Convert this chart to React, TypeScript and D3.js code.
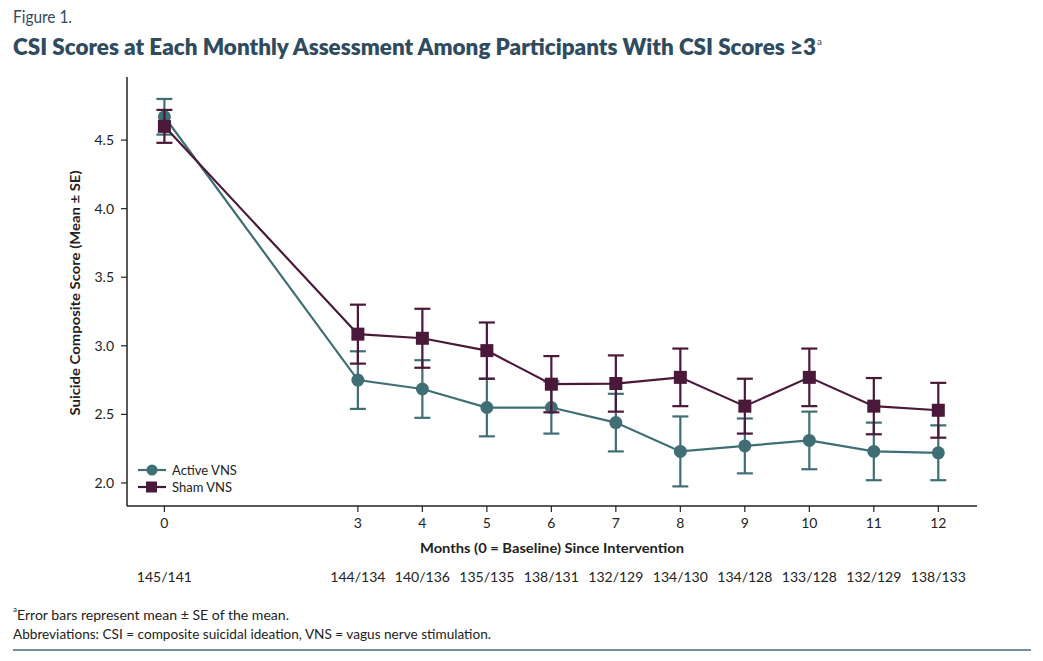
import React from "react";
import * as d3 from "d3";

// months assessed (0 = baseline)
const months = [0, 3, 4, 5, 6, 7, 8, 9, 10, 11, 12];
const nLabels = ["145/141", "144/134", "140/136", "135/135", "138/131", "132/129", "134/130", "134/128", "133/128", "132/129", "138/133"];

const activeMean = [4.67, 2.75, 2.685, 2.55, 2.55, 2.44, 2.23, 2.27, 2.31, 2.23, 2.22];
const activeSE = [0.13, 0.21, 0.21, 0.21, 0.19, 0.21, 0.255, 0.2, 0.21, 0.21, 0.2];
const shamMean = [4.6, 3.085, 3.055, 2.965, 2.72, 2.725, 2.77, 2.56, 2.77, 2.56, 2.53];
const shamSE = [0.12, 0.215, 0.215, 0.205, 0.205, 0.205, 0.21, 0.2, 0.21, 0.205, 0.2];

const yTicks = [2.0, 2.5, 3.0, 3.5, 4.0, 4.5];

const series = [
  { label: "Active VNS", mean: activeMean, se: activeSE, color: "#3f6f75", shape: "circle" },
  { label: "Sham VNS", mean: shamMean, se: shamSE, color: "#4a1838", shape: "square" },
];

const W = 1043;
const H = 661;
const x = d3.scaleLinear().domain([-0.58, 12.6]).range([127, 977]);
const y = d3.scaleLinear().domain([1.832, 4.96]).range([506, 77]);
const titleColor = "#2f4b60";
const font = "Lato, 'Open Sans', sans-serif";

export default function App() {
  const line = d3
    .line<number>()
    .x((_, i) => x(months[i]))
    .y((d) => y(d));

  return (
    <svg width={W} height={H} style={{ position: "absolute", left: 0, top: 0, background: "#fff" }} fontFamily={font}>
      <text x={13} y={23} fontSize={17} fill={titleColor} textLength={59} lengthAdjust="spacingAndGlyphs">Figure 1.</text>
      <text x={13} y={55} fontSize={22} fontWeight={800} fill={titleColor} textLength={803} lengthAdjust="spacingAndGlyphs">
        CSI Scores at Each Monthly Assessment Among Participants With CSI Scores ≥3
      </text>
      <text x={817} y={45} fontSize={10} fill={titleColor}>a</text>

      {/* axes */}
      <line x1={127} x2={127} y1={77} y2={506} stroke="#222" strokeWidth={1.5} />
      <line x1={127} x2={977} y1={506} y2={506} stroke="#222" strokeWidth={1.5} />
      {yTicks.map((t) => (
        <g key={t}>
          <line x1={121} x2={127} y1={y(t)} y2={y(t)} stroke="#222" strokeWidth={1.2} />
          <text x={114} y={y(t) + 5} fontSize={14} textAnchor="end" fill="#222">{t.toFixed(1)}</text>
        </g>
      ))}
      {months.map((m, i) => (
        <g key={m}>
          <line x1={x(m)} x2={x(m)} y1={506} y2={512} stroke="#222" strokeWidth={1.2} />
          <text x={x(m)} y={528} fontSize={14} textAnchor="middle" fill="#222">{m}</text>
          <text x={x(m)} y={582} fontSize={14} textAnchor="middle" fill="#222">{nLabels[i]}</text>
        </g>
      ))}
      <text x={552} y={553} fontSize={14} fontWeight={700} textAnchor="middle" fill="#222" textLength={264} lengthAdjust="spacingAndGlyphs">
        Months (0 = Baseline) Since Intervention
      </text>
      <text transform="translate(80,293) rotate(-90)" fontSize={14} fontWeight={700} textAnchor="middle" fill="#222" textLength={245} lengthAdjust="spacingAndGlyphs">
        Suicide Composite Score (Mean ± SE)
      </text>

      {/* series */}
      {series.map((s) => (
        <g key={s.label}>
          <path d={line(s.mean) || ""} fill="none" stroke={s.color} strokeWidth={2.2} />
          {s.mean.map((v, i) => {
            const cx = x(months[i]);
            const lo = y(v - s.se[i]);
            const hi = y(v + s.se[i]);
            return (
              <g key={i} stroke={s.color} strokeWidth={2.2}>
                <line x1={cx} x2={cx} y1={lo} y2={hi} />
                <line x1={cx - 8} x2={cx + 8} y1={lo} y2={lo} />
                <line x1={cx - 8} x2={cx + 8} y1={hi} y2={hi} />
              </g>
            );
          })}
          {s.mean.map((v, i) =>
            s.shape === "circle" ? (
              <circle key={i} cx={x(months[i])} cy={y(v)} r={6.5} fill={s.color} />
            ) : (
              <rect key={i} x={x(months[i]) - 6.5} y={y(v) - 6.5} width={13} height={13} fill={s.color} />
            )
          )}
        </g>
      ))}

      {/* legend */}
      {series.map((s, i) => {
        const ly = 470 + i * 17;
        return (
          <g key={s.label}>
            <line x1={138} x2={166} y1={ly} y2={ly} stroke={s.color} strokeWidth={2.2} />
            {s.shape === "circle" ? (
              <circle cx={152} cy={ly} r={5.5} fill={s.color} />
            ) : (
              <rect x={146} y={ly - 5.5} width={11} height={11} fill={s.color} />
            )}
            <text x={172} y={ly + 4.5} fontSize={13} fill="#222">{s.label}</text>
          </g>
        );
      })}

      {/* footnotes */}
      <text x={17} y={620} fontSize={13} fill="#222" textLength={272} lengthAdjust="spacingAndGlyphs">
        Error bars represent mean ± SE of the mean.
      </text>
      <text x={13} y={612} fontSize={8} fill="#222">a</text>
      <text x={13} y={639} fontSize={13} fill="#222" textLength={478} lengthAdjust="spacingAndGlyphs">
        Abbreviations: CSI = composite suicidal ideation, VNS = vagus nerve stimulation.
      </text>
      <line x1={13} x2={1031} y1={650} y2={650} stroke="#4a6a80" strokeWidth={1.5} />
    </svg>
  );
}
